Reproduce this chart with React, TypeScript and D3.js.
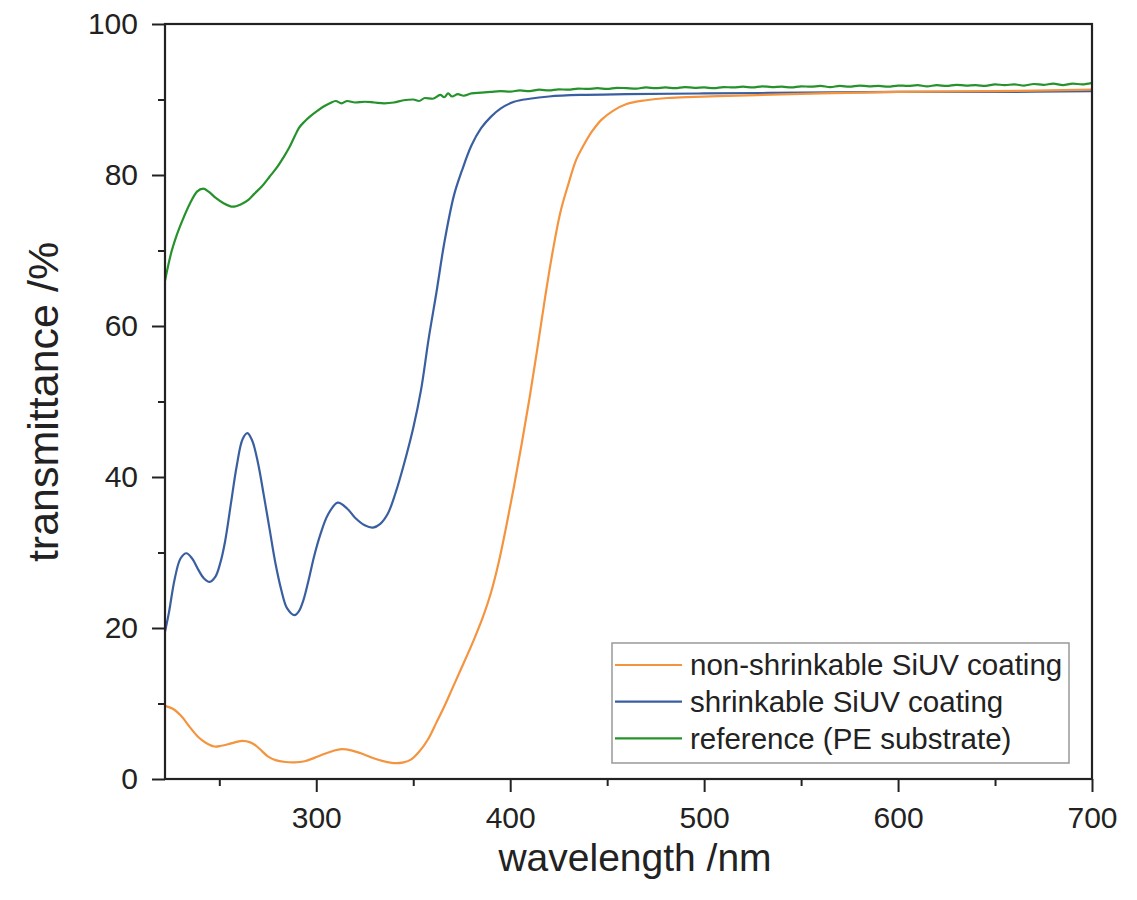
import * as d3 from 'd3';
import React, { useEffect, useRef } from 'react';

// wavelength (nm) / transmittance (%)
const orangeWl = [222, 226, 230.5, 235, 239, 243, 247.6, 251, 254.5, 258, 262, 266, 269, 272, 275, 279, 284, 289, 294, 299, 304, 309, 313, 318, 323, 328, 334, 340, 345, 349, 353, 357.5, 362, 366, 370, 374, 378, 382, 386, 390, 394, 398, 402, 406, 410, 414, 418, 422, 426, 430, 434, 438, 442, 447, 453, 460, 470, 481, 495, 507, 530, 560, 600, 650, 700];
const orangeT = [9.7, 9.3, 8.3, 6.8, 5.6, 4.8, 4.3, 4.4, 4.6, 4.85, 5.05, 4.85, 4.4, 3.7, 3.0, 2.5, 2.25, 2.2, 2.35, 2.8, 3.3, 3.75, 3.95, 3.8, 3.4, 2.9, 2.4, 2.1, 2.2, 2.6, 3.6, 5.2, 7.5, 9.6, 11.9, 14.2, 16.5, 18.9, 21.5, 24.6, 28.6, 33.5, 38.8, 44.5, 50.5, 57, 63.8, 70, 75.2, 78.8, 82.0, 84.0, 85.7, 87.3, 88.5, 89.4, 89.9, 90.2, 90.35, 90.45, 90.6, 90.8, 91.0, 91.1, 91.3];

const blueWl = [222, 224, 227, 230, 233, 236, 239, 242, 245, 248, 250.5, 253, 256, 259, 262, 264.5, 267, 270, 273, 276, 279, 282, 285, 288.8, 291, 293.5, 296, 299, 302, 306, 311, 316, 320, 325, 329.2, 333, 337, 341, 345, 350, 354, 358, 362, 366, 371, 375, 380, 385, 390, 395, 402, 410, 420, 436, 460, 500, 550, 600, 650, 700];
const blueT = [19.5, 22, 26.5, 29.2, 29.9, 29.2, 27.8, 26.6, 26.1, 26.8, 28.6, 31.5, 36.5, 41.5, 45, 45.8, 44.8, 41.8, 37.5, 33, 28.5, 25, 22.6, 21.7, 22.2, 23.8, 26.3, 29.6, 32.3, 35, 36.6, 35.8, 34.6, 33.6, 33.3, 33.8, 35.2, 38, 41.5, 46.5, 51.5, 58.4, 64.5, 71, 77.3, 80.5, 83.9, 86.2, 87.7, 88.8, 89.7, 90.1, 90.4, 90.6, 90.7, 90.8, 90.9, 91.0, 91.0, 91.1];

const greenWl = [222, 225, 228, 231, 235, 238.5, 241.7, 244.5, 248, 252, 257, 261, 265, 268, 272, 276, 280, 283, 286, 289, 291, 294, 297, 300, 304, 307, 310, 313, 316, 320, 325, 330, 335, 340, 345, 350, 353, 356, 360, 364, 366, 368, 370, 373, 376, 380, 385, 390, 395, 400, 405, 410, 415, 420, 425, 430, 435, 440, 445, 450, 455, 460, 465, 470, 475, 480, 485, 490, 495, 500, 505, 510, 515, 520, 525, 530, 535, 540, 545, 550, 555, 560, 565, 570, 575, 580, 585, 590, 595, 600, 605, 610, 615, 620, 625, 630, 635, 640, 645, 650, 655, 660, 665, 670, 675, 680, 685, 690, 695, 700];
const greenT = [66, 69.5, 72, 74, 76.3, 77.8, 78.2, 77.8, 77, 76.3, 75.8, 76.1, 76.7, 77.5, 78.5, 79.8, 81.1, 82.3, 83.6, 85.2, 86.2, 87.1, 87.8, 88.4, 89.1, 89.5, 89.8, 89.5, 89.8, 89.6, 89.7, 89.6, 89.5, 89.6, 89.9, 90.0, 89.8, 90.2, 90.1, 90.6, 90.3, 90.8, 90.4, 90.7, 90.5, 90.8, 90.9, 91.0, 91.1, 91.05, 91.2, 91.1, 91.3, 91.2, 91.35, 91.3, 91.45, 91.4, 91.5, 91.4, 91.55, 91.5, 91.45, 91.6, 91.5, 91.6, 91.5, 91.65, 91.55, 91.6, 91.5, 91.65, 91.6, 91.7, 91.6, 91.75, 91.65, 91.7, 91.6, 91.75, 91.7, 91.8, 91.65, 91.8, 91.7, 91.85, 91.75, 91.8, 91.7, 91.85, 91.8, 91.9, 91.75, 91.9, 91.8, 91.95, 91.85, 91.9, 91.8, 92.0, 91.9, 92.0, 91.85, 92.05, 91.95, 92.1, 91.9, 92.1, 92.0, 92.2];

const seriesNames = ['non-shrinkable SiUV coating', 'shrinkable SiUV coating', 'reference (PE substrate)'];
const seriesColors = ['#f5943f', '#3a5fa0', '#25922b'];

const xMajor = [300, 400, 500, 600, 700];
const xMinor = [250, 350, 450, 550, 650];
const yMajor = [0, 20, 40, 60, 80, 100];
const yMinor = [10, 30, 50, 70, 90];

export default function App() {
  const svgRef = useRef(null);
  const width = 1137;
  const height = 900;
  const margin = { top: 24, right: 45, bottom: 121, left: 165 };

  useEffect(() => {
    const svg = d3.select(svgRef.current);
    svg.selectAll('*').remove();
    const plotWidth = width - margin.left - margin.right;
    const plotHeight = height - margin.top - margin.bottom;
    const font = 'Arial, "Liberation Sans", Helvetica, sans-serif';

    const g = svg.append('g').attr('transform', `translate(${margin.left},${margin.top})`);

    const x = d3.scaleLinear().domain([222, 700]).range([0, plotWidth]);
    const y = d3.scaleLinear().domain([0, 100]).range([plotHeight, 0]);

    svg.append('defs').append('clipPath').attr('id', 'plot-clip')
      .append('rect').attr('width', plotWidth).attr('height', plotHeight);

    const series = [
      orangeWl.map((w, i) => [w, orangeT[i]]),
      blueWl.map((w, i) => [w, blueT[i]]),
      greenWl.map((w, i) => [w, greenT[i]]),
    ];
    const smooth = d3.line().x((d) => x(d[0])).y((d) => y(d[1])).curve(d3.curveCatmullRom.alpha(0.5));
    const noisy = d3.line().x((d) => x(d[0])).y((d) => y(d[1])).curve(d3.curveMonotoneX);

    const lines = g.append('g').attr('clip-path', 'url(#plot-clip)');
    [2, 1, 0].forEach((k) => {
      lines.append('path')
        .datum(series[k])
        .attr('d', k === 2 ? noisy : smooth)
        .attr('fill', 'none')
        .attr('stroke', seriesColors[k])
        .attr('stroke-width', 2.2);
    });

    // axes
    const xAxis = g.append('g').attr('transform', `translate(0,${plotHeight})`)
      .call(d3.axisBottom(x).tickValues(xMajor).tickSize(13).tickPadding(15).tickFormat(d3.format('d')));
    g.append('g').attr('transform', `translate(0,${plotHeight})`)
      .call(d3.axisBottom(x).tickValues(xMinor).tickSize(7).tickFormat(() => ''))
      .call((s) => s.select('.domain').remove());
    const yAxis = g.append('g')
      .call(d3.axisLeft(y).tickValues(yMajor).tickSize(13).tickPadding(14).tickFormat(d3.format('d')));
    g.append('g')
      .call(d3.axisLeft(y).tickValues(yMinor).tickSize(7).tickFormat(() => ''))
      .call((s) => s.select('.domain').remove());

    [xAxis, yAxis].forEach((a) => {
      a.select('.domain').remove();
      a.selectAll('text').style('font-family', font).style('font-size', '30px').attr('fill', '#222');
    });
    g.selectAll('.tick line').attr('stroke', '#222').attr('stroke-width', 2);

    g.append('rect')
      .attr('width', plotWidth).attr('height', plotHeight)
      .attr('fill', 'none').attr('stroke', '#222').attr('stroke-width', 2.2);

    // axis titles
    svg.append('text')
      .attr('x', 635).attr('y', 871)
      .attr('text-anchor', 'middle')
      .style('font-family', font).style('font-size', '39px').attr('fill', '#222')
      .text('wavelength /nm');
    svg.append('text')
      .attr('transform', `translate(58,402) rotate(-90)`)
      .attr('text-anchor', 'middle')
      .style('font-family', font).style('font-size', '43px').attr('fill', '#222')
      .text('transmittance /%');

    // legend
    const lg = svg.append('g').attr('transform', 'translate(612,643)');
    lg.append('rect').attr('width', 457).attr('height', 120)
      .attr('fill', '#fff').attr('stroke', '#999').attr('stroke-width', 1.5);
    seriesNames.forEach((name, i) => {
      const yy = 22 + i * 36.7;
      lg.append('line').attr('x1', 3).attr('x2', 70).attr('y1', yy).attr('y2', yy)
        .attr('stroke', seriesColors[i]).attr('stroke-width', 2.2);
      lg.append('text').attr('x', 78).attr('y', yy).attr('dy', '0.35em')
        .style('font-family', font).style('font-size', '29.5px').attr('fill', '#222')
        .text(name);
    });
  }, []);

  return (
    <div style={{ position: 'absolute', left: 0, top: 0 }}>
      <svg ref={svgRef} width={width} height={height} style={{ display: 'block', background: '#fff' }} />
    </div>
  );
}
